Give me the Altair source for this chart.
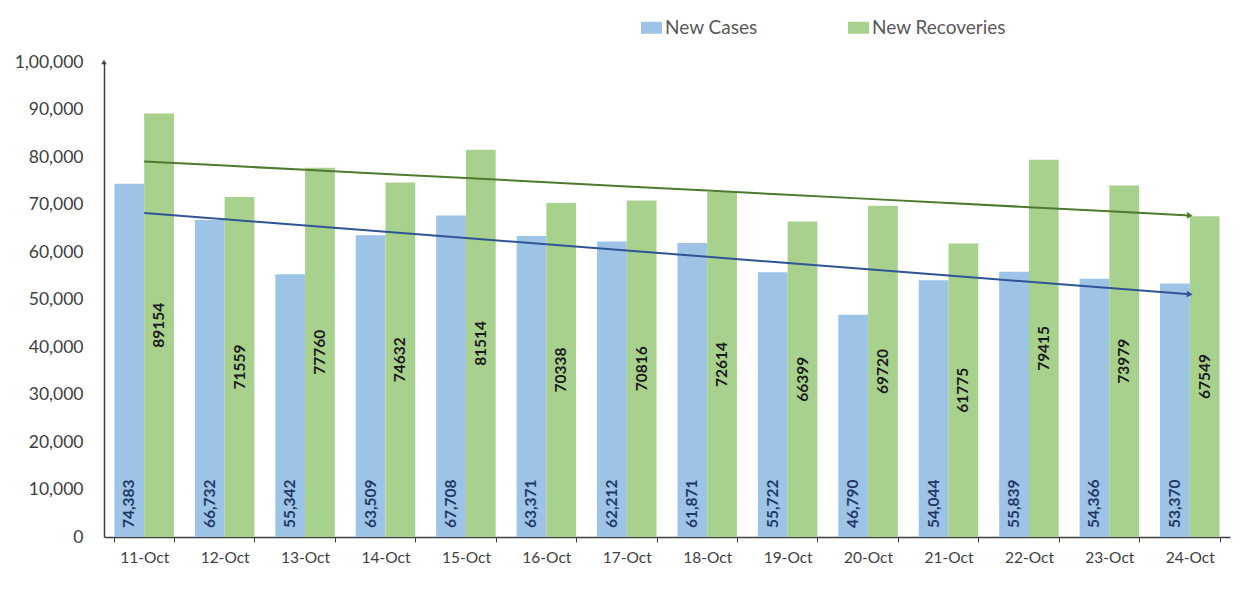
import altair as alt
import numpy as np
import pandas as pd

dates = ["11-Oct", "12-Oct", "13-Oct", "14-Oct", "15-Oct", "16-Oct", "17-Oct",
         "18-Oct", "19-Oct", "20-Oct", "21-Oct", "22-Oct", "23-Oct", "24-Oct"]
new_cases = [74383, 66732, 55342, 63509, 67708, 63371, 62212,
             61871, 55722, 46790, 54044, 55839, 54366, 53370]
new_recoveries = [89154, 71559, 77760, 74632, 81514, 70338, 70816,
                  72614, 66399, 69720, 61775, 79415, 73979, 67549]
series_names = ["New Cases", "New Recoveries"]
bar_colors = ["#9DC3E6", "#A9D18E"]

rows = []
for d, c, r in zip(dates, new_cases, new_recoveries):
    rows.append({"date": d, "series": series_names[0], "value": c})
    rows.append({"date": d, "series": series_names[1], "value": r})
df = pd.DataFrame(rows)

# linear trend lines (least squares fit on the day index)
idx = np.arange(len(dates))
trend_rows = []
for name, vals in zip(series_names, [new_cases, new_recoveries]):
    slope, intercept = np.polyfit(idx, np.array(vals, dtype=float), 1)
    for i, d in enumerate(dates):
        trend_rows.append({"date": d, "series": name, "fit": intercept + slope * i})
tdf = pd.DataFrame(trend_rows)

FONT = "Lato"
W, H = 1126, 475

x_enc = alt.X("date:N", sort=dates, title=None,
              scale=alt.Scale(paddingInner=0.26, paddingOuter=0.13),
              axis=alt.Axis(labelAngle=0, labelFontSize=15.5, labelColor="#404040",
                            labelPadding=8, tickSize=5, tickColor="#404040",
                            tickBand="extent", domainColor="#404040", domainWidth=1.5,
                            grid=False, labelFont=FONT))
y_enc = alt.Y("value:Q", title=None,
              scale=alt.Scale(domain=[0, 100000], nice=False),
              axis=alt.Axis(values=list(range(0, 100001, 10000)), grid=False,
                            ticks=False, labelPadding=21, labelFontSize=17.5,
                            labelColor="#404040", domainColor="#404040", domainWidth=1.5,
                            labelFont=FONT,
                            labelExpr="datum.value == 100000 ? '1,00,000' : format(datum.value, ',')"))
xo = alt.XOffset("series:N", sort=series_names, scale=alt.Scale(paddingInner=0, paddingOuter=0))

base = alt.Chart(df)

bars = base.mark_bar().encode(
    x=x_enc, y=y_enc, xOffset=xo,
    color=alt.Color("series:N", sort=series_names,
                    scale=alt.Scale(domain=series_names, range=bar_colors),
                    legend=alt.Legend(title=None, orient="none", direction="horizontal",
                                      legendX=537, legendY=-45,
                                      symbolType="M-1,-0.57H1V0.57H-1Z", symbolSize=441,
                                      symbolStrokeWidth=0, labelFontSize=19,
                                      labelColor="#595959", labelFont=FONT,
                                      labelOffset=3, columnPadding=90,
                                      labelLimit=300))
)

case_labels = base.transform_filter(
    alt.datum.series == series_names[0]
).mark_text(angle=270, align="left", baseline="middle", dx=9,
            fontWeight="bold", fontSize=15.5, color="#1f3864", font=FONT).encode(
    x=alt.X("date:N", sort=dates), xOffset=xo,
    y=alt.datum(0),
    text=alt.Text("value:Q", format=",")
)

rec_labels = base.transform_filter(
    alt.datum.series == series_names[1]
).transform_calculate(
    mid="datum.value / 2"
).mark_text(angle=270, align="center", baseline="middle",
            fontWeight="bold", fontSize=15.5, color="#1a1a1a", font=FONT).encode(
    x=alt.X("date:N", sort=dates), xOffset=xo,
    y=alt.Y("mid:Q"),
    text=alt.Text("value:Q", format="d")
)

trend_colors = {"New Cases": "#2f5597", "New Recoveries": "#4e7a30"}
trend_angles = {"New Cases": 4.4, "New Recoveries": 3.0}
trend_layers = []
for name in series_names:
    tb = alt.Chart(tdf).transform_filter(alt.datum.series == name)
    trend_layers.append(tb.mark_line(color=trend_colors[name], strokeWidth=2).encode(
        x=alt.X("date:N", sort=dates), y=alt.Y("fit:Q")))
    trend_layers.append(tb.transform_filter(alt.datum.date == dates[-1]).mark_point(
        shape="triangle-right", filled=True, size=45, opacity=1,
        color=trend_colors[name], angle=trend_angles[name]).encode(
        x=alt.X("date:N", sort=dates), y=alt.Y("fit:Q")))

arrow = alt.Chart(pd.DataFrame({"top": [100000]})).mark_point(
    shape="triangle-up", filled=True, size=30, color="#404040", opacity=1
).encode(x=alt.value(0), y=alt.Y("top:Q"))

chart = alt.layer(bars, case_labels, rec_labels, *trend_layers, arrow).properties(
    width=W, height=H,
    autosize=alt.AutoSizeParams(type="none"),
    padding={"left": 96, "top": 54, "right": 5, "bottom": 60},
    view=alt.ViewBackground(stroke="transparent", strokeWidth=0),
).configure(font=FONT, background="white").configure_view(strokeWidth=0, stroke="transparent")

chart.save("out.html", embed_options={"renderer": "svg", "actions": False})
